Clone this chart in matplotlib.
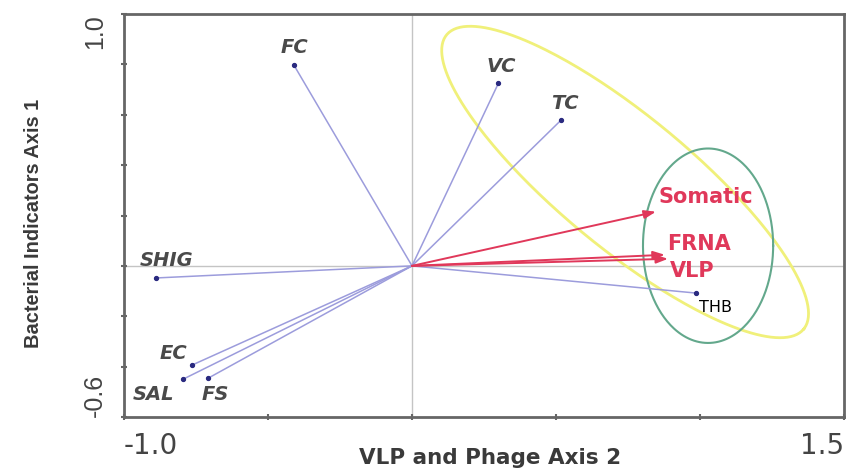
import numpy as np
import matplotlib
matplotlib.use("Agg")
import matplotlib.pyplot as plt

# Biplot loadings: x = VLP and Phage Axis 2, y = Bacterial Indicators Axis 1
bact_names = ["FC", "VC", "TC", "SHIG", "EC", "SAL", "FS", "THB"]
bact_axis2 = [-0.41, 0.30, 0.517, -0.889, -0.764, -0.795, -0.708, 0.986]
bact_axis1 = [0.797, 0.725, 0.578, -0.048, -0.394, -0.450, -0.446, -0.108]

phage_names = ["Somatic", "FRNA", "VLP"]
phage_axis2 = [0.847, 0.878, 0.889]
phage_axis1 = [0.215, 0.044, 0.028]

# label offsets from the arrow tip, in pixels
label_offsets = {
    "FC": (0, 18), "VC": (3, 17), "TC": (4, 17), "SHIG": (11, 17),
    "EC": (-19, 12), "SAL": (-30, -15), "FS": (7, -16), "THB": (20, -14),
    "Somatic": (50, 15), "FRNA": (34, 11), "VLP": (24, -12),
}

GRAY_TXT = "#4a4a4a"
BLUE_LINE = "#9c9cdc"
BLUE_TIP = "#2a2a80"
RED = "#e0385a"

fig = plt.figure(figsize=(8.5, 4.72), dpi=100)
ax = fig.add_axes([124 / 850, 55 / 472, 720 / 850, 403 / 472])
ax.set_xlim(-1.0, 1.5)
ax.set_ylim(-0.6, 1.0)

# zero reference lines
ax.axhline(0, color="#c4c4c4", lw=1, zorder=1)
ax.axvline(0, color="#c4c4c4", lw=1, zorder=1)

# group ellipses
t = np.linspace(0, 2 * np.pi, 300)
yc, yu, yv = (0.740, 0.333), (0.620, -0.584), (-0.1455, -0.203)
ax.plot(yc[0] + np.cos(t) * yu[0] + np.sin(t) * yv[0],
        yc[1] + np.cos(t) * yu[1] + np.sin(t) * yv[1],
        color="#f0f07a", lw=2, zorder=2)
gc, gw, gh = (1.028, 0.080), 0.226, 0.386
ax.plot(gc[0] + gw * np.cos(t), gc[1] + gh * np.sin(t),
        color="#63a88c", lw=1.5, zorder=2)

# bacterial indicator vectors
for name, x, y in zip(bact_names, bact_axis2, bact_axis1):
    ax.plot([0, x], [0, y], color=BLUE_LINE, lw=1.1, zorder=3)
    ax.plot(x, y, marker="o", ms=2.8, color=BLUE_TIP, zorder=4)
    if name == "THB":
        kw = dict(fontsize=11.5, color="black", family="DejaVu Sans")
    else:
        kw = dict(fontsize=14, color=GRAY_TXT, family="DejaVu Sans",
                  fontweight="bold", fontstyle="italic")
    ax.annotate(name, (x, y), xytext=label_offsets[name], textcoords="offset pixels",
                ha="center", va="center", **kw)

# phage vectors
for name, x, y in zip(phage_names, phage_axis2, phage_axis1):
    ax.annotate("", xy=(x, y), xytext=(0, 0),
                arrowprops=dict(arrowstyle="-|>,head_length=0.7,head_width=0.25",
                                color=RED, lw=1.4, shrinkA=0, shrinkB=0), zorder=5)
    ax.annotate(name, (x, y), xytext=label_offsets[name], textcoords="offset pixels",
                ha="center", va="center", fontsize=15, fontweight="bold",
                color=RED, family="DejaVu Sans")

# axes styling
for sp in ax.spines.values():
    sp.set_color("#666666")
    sp.set_linewidth(2)
ax.set_xticks([-1.0, -0.5, 0.0, 0.5, 1.0, 1.5])
ax.set_xticklabels(["-1.0", "", "", "", "", "1.5"])
ax.set_yticks([-0.6, -0.4, -0.2, 0.0, 0.2, 0.4, 0.6, 0.8, 1.0])
ax.set_yticklabels(["-0.6", "", "", "", "", "", "", "", "1.0"])
ax.tick_params(direction="inout", length=5, width=1.5, color="#666666",
               labelcolor="#444444")
ax.tick_params(axis="x", labelsize=20, pad=8)
ax.tick_params(axis="y", labelsize=18, pad=10)
xt = ax.get_xticklabels()
xt[0].set_ha("left")
xt[-1].set_ha("right")
for lab in ax.get_yticklabels():
    lab.set_family("Liberation Sans")
    lab.set_rotation(90)
    lab.set_va("center")
yt = ax.get_yticklabels()
yt[0].set_va("bottom")
yt[-1].set_va("top")

ax.set_xlabel("VLP and Phage Axis 2", fontsize=15.5, fontweight="bold",
              color="#3a3a3a", family="DejaVu Sans")
ax.xaxis.set_label_coords(0.508, -0.078)
ax.set_ylabel("Bacterial Indicators Axis 1", fontsize=14.4, fontweight="bold",
              color="#3a3a3a", family="Liberation Sans")
ax.yaxis.set_label_coords(-0.1125, 0.481)

fig.savefig("out.png", dpi=100)
